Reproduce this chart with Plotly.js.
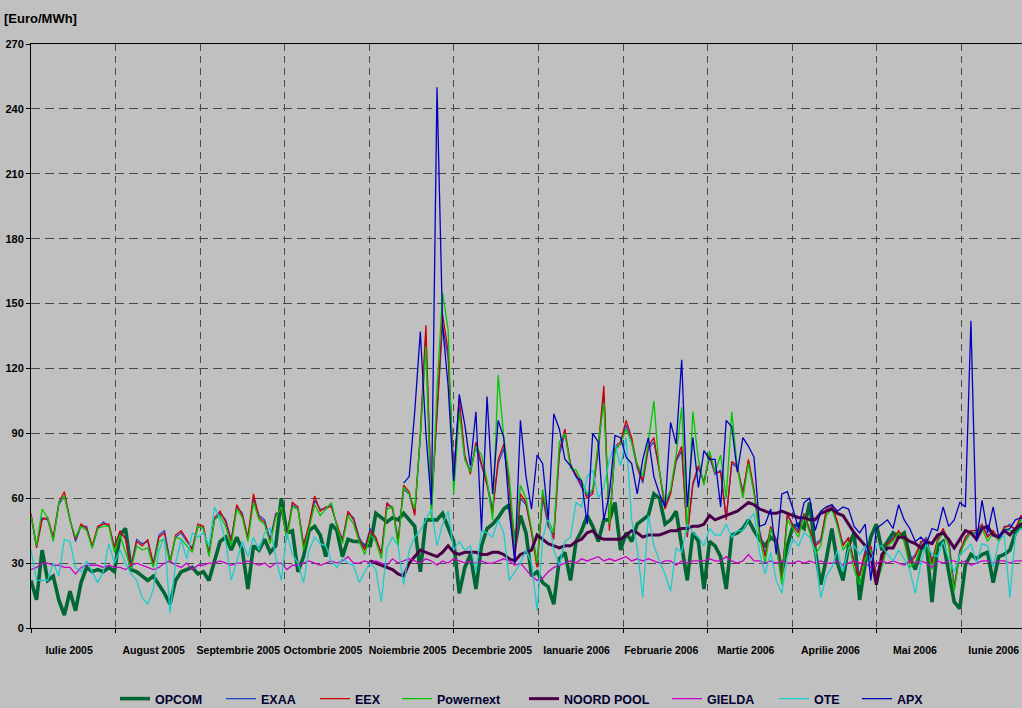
<!DOCTYPE html>
<html><head><meta charset="utf-8">
<script src="https://cdn.plot.ly/plotly-3.0.1.min.js"></script>
<style>html,body{margin:0;padding:0;overflow:hidden;background:#c0c0c0;width:1022px;height:708px}#chart{width:1056px;height:708px}</style>
</head><body><div id="chart"></div><script>
// Daily spot prices sampled every 2 days, starting 1 iulie 2005 (day 0)
const stepDays = 2;
const monthLabels = ['Iulie 2005','August 2005','Septembrie 2005','Octombrie 2005','Noiembrie 2005','Decembrie 2005','Ianuarie 2006','Februarie 2006','Martie 2006','Aprilie 2006','Mai 2006','Iunie 2006'];
const seriesNames = ['OPCOM','EXAA','EEX','Powernext','NOORD POOL','GIELDA','OTE','APX'];
const startDays = [0,0,0,0,122,0,0,134];

const opcom = [
22,13,36,22,24,13,6,17,8,21,
28,26,27,26,28,26,43,46,27,26,
24,22,24,20,16,11,22,26,27,28,
25,26,22,31,40,42,36,42,36,18,
38,36,41,35,38,60,44,45,26,33,
45,47,43,33,48,45,33,41,40,40,
38,38,53,51,49,51,50,53,50,47,
26,50,50,50,53,47,40,16,28,34,
18,38,46,48,51,55,57,38,52,44,
24,26,21,19,11,32,35,22,40,45,
52,47,40,50,50,58,36,44,40,48,
50,52,62,60,48,50,54,37,22,44,
40,18,40,38,33,18,43,44,46,50,
45,41,38,42,40,26,38,47,48,46,
58,36,20,32,46,30,22,38,44,13,
30,42,48,36,40,44,42,44,33,27,
36,39,12,38,40,26,12,9,29,34,
32,34,35,21,33,34,36,44,47,45,
44,46,42];

const exaa = [
52,38,51,50,41,57,61,51,40,47,
47,37,46,49,47,38,44,42,29,41,
39,40,30,43,45,31,42,44,40,37,
47,46,35,50,53,50,41,56,53,41,
60,52,50,41,53,54,43,57,55,39,
47,59,55,55,57,47,41,53,51,42,
37,46,41,35,57,56,41,64,62,53,
88,136,57,98,140,125,72,103,78,73,
84,75,67,55,76,83,65,34,60,57,
45,30,60,47,43,80,90,76,70,65,
61,63,82,108,47,83,85,94,86,74,
67,83,86,73,56,63,77,82,44,66,
74,68,79,71,73,51,76,74,63,77,
63,45,34,46,41,23,52,48,45,52,
45,39,41,54,56,48,39,41,31,25,
36,37,25,31,38,42,44,40,31,34,
39,42,31,40,45,41,19,36,41,44,
44,47,43,44,42,46,48,45,51,49,
47,51,46];

const eex = [
53,37,50,51,42,58,63,50,41,48,
46,38,47,48,48,37,45,41,28,40,
38,41,29,42,44,30,43,45,41,36,
48,47,34,51,54,49,40,57,52,42,
62,51,49,40,52,55,42,58,56,38,
48,61,54,56,56,48,40,54,50,41,
36,45,42,34,58,55,40,66,63,52,
90,140,55,100,145,128,70,106,80,71,
86,76,66,53,78,85,66,32,62,58,
44,28,62,48,41,82,92,75,71,66,
60,62,84,112,45,84,86,96,88,75,
68,84,88,72,55,62,78,84,42,67,
75,67,80,72,72,50,77,75,62,78,
64,44,33,47,40,22,53,47,44,53,
46,38,40,55,57,49,38,42,30,24,
35,38,24,30,39,41,45,41,30,33,
40,41,30,41,46,40,18,35,42,45,
45,48,42,45,41,47,47,46,52,50,
48,52,45];

const powernext = [
52,38,55,51,40,58,61,50,42,47,
45,37,46,47,47,35,43,35,27,38,
36,37,28,40,41,30,42,41,38,35,
47,46,33,50,52,47,38,55,51,40,
58,50,48,39,51,56,41,56,55,36,
46,57,52,55,58,47,39,52,48,40,
34,43,40,32,55,56,38,65,62,55,
88,130,50,110,155,138,62,100,78,72,
84,80,68,50,117,88,70,38,66,60,
46,30,64,50,44,86,90,74,73,68,
62,64,86,104,48,82,85,92,86,76,
70,86,105,72,58,64,80,102,44,100,
78,66,82,72,80,60,100,74,60,76,
62,42,30,46,38,20,50,46,42,52,
44,34,38,52,55,47,36,40,27,20,
32,36,20,28,38,40,44,40,28,30,
38,40,27,40,44,38,17,34,40,44,
44,46,40,44,40,46,45,45,50,48,
46,50,44];

const noordPool = [
31,30,29,28,27,25,24,30,33,
36,35,34,33,35,38,35,34,35,35,
35,34,34,35,35,34,32,31,34,35,
36,43,41,39,38,37,38,38,40,41,
44,45,42,41,41,41,41,43,45,44,
42,43,43,43,44,45,45,46,46,47,
47,48,52,50,51,52,53,54,56,58,
57,55,54,53,53,54,53,52,51,51,
50,50,53,54,55,53,52,48,44,41,
38,33,20,34,37,37,42,42,40,39,
37,40,39,43,44,41,37,41,45,44,
41,46,47,43,42,45,43,46,48,49,
48,50,49];

const gielda = [
27,28,30,30,29,29,28,28,25,28,
29,29,29,28,29,28,28,27,29,30,
29,28,27,28,30,31,29,28,30,27,
29,29,30,30,31,30,29,30,30,31,
30,29,30,28,30,30,27,29,29,30,
31,30,29,30,31,30,31,33,30,30,
31,30,31,30,29,32,30,31,32,31,
30,32,31,29,31,30,32,31,30,31,
30,31,30,30,31,32,31,29,30,27,
24,22,23,26,28,29,30,31,30,32,
31,32,33,31,32,31,32,33,31,32,
31,32,31,30,31,31,29,31,30,31,
31,31,32,31,31,33,31,30,31,34,
31,31,30,31,30,31,30,30,31,30,
31,30,31,30,30,31,29,30,31,30,
30,28,30,31,30,31,30,29,31,30,
31,30,28,31,30,31,31,30,31,29,
30,31,31,30,31,31,30,31,31,31,
31,31,32];

const ote = [
36,22,22,22,30,24,41,40,28,26,
31,26,21,26,39,30,36,30,25,22,
14,11,18,36,42,7,30,41,32,44,
42,44,38,56,50,40,22,31,40,33,
42,36,44,46,33,22,44,34,30,21,
36,42,39,38,31,28,32,30,29,21,
26,30,27,12,37,42,38,20,36,42,
45,50,55,38,48,54,36,40,36,38,
26,45,44,42,50,44,22,26,30,36,
30,8,41,52,36,29,40,42,58,56,
70,73,60,65,78,85,75,88,50,37,
14,52,38,31,25,17,37,35,48,44,
42,38,46,43,43,48,42,45,45,50,
53,35,25,35,22,16,33,41,38,44,
42,36,14,24,28,36,26,37,38,34,
38,31,38,38,34,31,36,32,27,16,
30,39,34,33,40,32,26,34,36,39,
30,39,38,28,40,43,14,43,46,44,
45,46,44];

const apx = [
67,70,100,
137,90,57,250,140,112,68,108,94,75,
100,45,107,62,96,88,55,30,96,70,
55,80,76,50,99,92,78,75,70,68,
48,90,86,50,62,89,88,79,76,62,
78,88,70,62,56,95,85,124,56,88,
65,82,78,78,56,96,93,72,88,84,
79,47,48,55,34,62,63,55,46,58,
60,45,54,56,57,54,56,55,47,44,
48,22,46,48,50,46,57,50,46,40,
42,39,46,45,56,47,50,58,56,142,
40,59,44,56,42,45,46,50,51,50,
52,54,50];

const seriesValues = [opcom, exaa, eex, powernext, noordPool, gielda, ote, apx];
const seriesColors = ['#006633','#1f46d0','#d00000','#00c800','#4a0048','#cc00cc','#1ccccc','#0000c0'];
const seriesWidths = [3.6,1.3,1.3,1.3,3,1.3,1.3,1.3];

const FONT = "'Liberation Sans',Arial,sans-serif";
const W = 1056, H = 708, ML = 31, MR = 10, MT = 44, MB = 80;
const plotW = W - ML - MR, plotH = H - MT - MB;
const daysInYear = 365, monthSpan = daysInYear / 12;
const labelShiftDays = monthLabels.map((_, k) => k === monthLabels.length - 1 ? -3.6 : -1.5);
const legendTextPx = [153,259,353,435,562,705,812,895];
const legendKeys = ['legend','legend2','legend3','legend4','legend5','legend6','legend7','legend8'];

const traces = seriesNames.map((name, s) => ({
  type: 'scatter', mode: 'lines', name: name,
  x: seriesValues[s].map((v, i) => startDays[s] + i * stepDays),
  y: seriesValues[s],
  line: {color: seriesColors[s], width: seriesWidths[s]},
  legend: legendKeys[s], showlegend: true
}));

const layout = {
  width: W, height: H, margin: {l: ML, r: MR, t: MT, b: MB, autoexpand: false},
  paper_bgcolor: '#c0c0c0', plot_bgcolor: '#c0c0c0',
  hovermode: false,
  title: {text: '[Euro/MWh]', font: {family: FONT, size: 13, color: '#000', weight: 'bold'},
          x: 4 / W, xref: 'container', xanchor: 'left', y: 1 - 18 / H, yref: 'container', yanchor: 'middle'},
  xaxis: {
    range: [0, daysInYear], tickmode: 'array',
    tickvals: monthLabels.map((_, k) => (k + 0.5) * monthSpan + labelShiftDays[k]),
    ticktext: monthLabels, tickangle: 0,
    ticks: 'outside', ticklen: 12, tickcolor: 'rgba(0,0,0,0)',
    showgrid: false, zeroline: false, showline: true, linecolor: '#000', linewidth: 1, mirror: true,
    tickfont: {family: FONT, size: 10.5, color: '#000', weight: 'bold'},
    minor: {tickmode: 'array', tickvals: monthLabels.map((_, k) => k * monthSpan).concat([daysInYear]),
            ticks: 'outside', ticklen: 4, tickcolor: '#000', showgrid: true, gridcolor: '#484848', griddash: '7px,5px', gridwidth: 1}
  },
  yaxis: {
    range: [0, 270], tickmode: 'linear', tick0: 0, dtick: 30,
    ticks: 'outside', ticklen: 4, tickcolor: '#000',
    showgrid: true, gridcolor: '#484848', griddash: '9px,5px', gridwidth: 1,
    showline: true, linecolor: '#000', linewidth: 1, zeroline: false,
    tickfont: {family: FONT, size: 11, color: '#000', weight: 'bold'}
  }
};
legendKeys.forEach((key, s) => {
  layout[key] = {
    x: (legendTextPx[s] - 38 - ML) / plotW, xanchor: 'left',
    y: (MT + plotH - 699) / plotH, yanchor: 'middle',
    orientation: 'h', bgcolor: 'rgba(0,0,0,0)', borderwidth: 0, itemwidth: 30,
    font: {family: FONT, size: 12.5, color: '#000033', weight: 'bold'}
  };
});

Plotly.newPlot('chart', traces, layout, {staticPlot: true, displayModeBar: false});
</script></body></html>
